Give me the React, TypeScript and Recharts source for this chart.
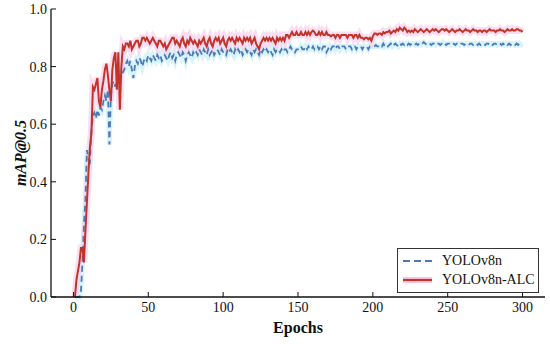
import React from "react";
import { LineChart, Line, XAxis, YAxis, Label } from "recharts";

const yoloV8n: number[] = [
  0, 0, 0, 0, 0.02, 0.12, 0.25, 0.34, 0.51, 0.48,
  0.47, 0.58, 0.63, 0.64, 0.62, 0.65, 0.63, 0.66, 0.65, 0.68,
  0.7, 0.68, 0.72, 0.53, 0.7, 0.74, 0.75, 0.73, 0.76, 0.74,
  0.77, 0.78, 0.78, 0.79, 0.81, 0.82, 0.8, 0.82, 0.79, 0.76,
  0.8, 0.82, 0.81, 0.83, 0.82, 0.8, 0.82, 0.83, 0.82, 0.84,
  0.83, 0.82, 0.84, 0.83, 0.82, 0.84, 0.83, 0.84, 0.82, 0.83,
  0.84, 0.83, 0.82, 0.84, 0.85, 0.83, 0.84, 0.82, 0.84, 0.85,
  0.84, 0.83, 0.85, 0.84, 0.82, 0.84, 0.85, 0.84, 0.83, 0.85,
  0.84, 0.85, 0.84, 0.86, 0.85, 0.84, 0.86, 0.85, 0.84, 0.86,
  0.84, 0.85, 0.86, 0.84, 0.85, 0.86, 0.85, 0.84, 0.86, 0.85,
  0.85, 0.84, 0.86, 0.85, 0.86, 0.85, 0.84, 0.86, 0.85, 0.86,
  0.85, 0.86, 0.84, 0.85, 0.86, 0.85, 0.86, 0.85, 0.84, 0.86,
  0.85, 0.86, 0.85, 0.84, 0.86, 0.85, 0.86, 0.85, 0.86, 0.85,
  0.86, 0.85, 0.84, 0.86, 0.85, 0.86, 0.86, 0.85, 0.86, 0.85,
  0.86, 0.86, 0.85, 0.86, 0.87, 0.86, 0.86, 0.85, 0.86, 0.86,
  0.86, 0.87, 0.86, 0.86, 0.87, 0.86, 0.87, 0.86, 0.86, 0.87,
  0.86, 0.87, 0.87, 0.86, 0.87, 0.86, 0.87, 0.87, 0.85, 0.86,
  0.87, 0.86, 0.87, 0.87, 0.86, 0.87, 0.87, 0.86, 0.87, 0.87,
  0.87, 0.86, 0.87, 0.87, 0.87, 0.86, 0.87, 0.87, 0.86, 0.87,
  0.87, 0.87, 0.86, 0.87, 0.87, 0.87, 0.86, 0.87, 0.87, 0.87,
  0.87, 0.875, 0.87, 0.87, 0.875, 0.87, 0.88, 0.87, 0.875, 0.87,
  0.875, 0.88, 0.87, 0.875, 0.88, 0.875, 0.87, 0.88, 0.875, 0.88,
  0.875, 0.88, 0.875, 0.88, 0.875, 0.88, 0.88, 0.875, 0.88, 0.875,
  0.88, 0.875, 0.88, 0.885, 0.88, 0.875, 0.88, 0.88, 0.875, 0.88,
  0.88, 0.875, 0.88, 0.88, 0.875, 0.88, 0.885, 0.88, 0.875, 0.88,
  0.88, 0.875, 0.88, 0.88, 0.875, 0.88, 0.88, 0.875, 0.88, 0.88,
  0.875, 0.88, 0.88, 0.875, 0.88, 0.88, 0.875, 0.88, 0.88, 0.875,
  0.88, 0.875, 0.88, 0.88, 0.875, 0.88, 0.88, 0.875, 0.88, 0.875,
  0.88, 0.88, 0.875, 0.88, 0.88, 0.875, 0.88, 0.875, 0.88, 0.875,
  0.88, 0.875, 0.88, 0.88, 0.875, 0.88, 0.875, 0.88, 0.875, 0.875,
];

const yoloV8nALC: number[] = [
  0, 0.06, 0.09, 0.12, 0.17, 0.17, 0.12, 0.23, 0.33, 0.43,
  0.52, 0.57, 0.73, 0.72, 0.74, 0.76, 0.68, 0.66, 0.72, 0.75,
  0.79, 0.81, 0.77, 0.72, 0.68, 0.79, 0.83, 0.85, 0.72, 0.85,
  0.65, 0.8, 0.87, 0.86, 0.88, 0.88, 0.87, 0.89, 0.86, 0.87,
  0.88, 0.89, 0.89, 0.87, 0.88, 0.9, 0.9, 0.89, 0.9, 0.89,
  0.88, 0.89, 0.9, 0.89, 0.88, 0.87, 0.89, 0.89, 0.88, 0.87,
  0.88, 0.86, 0.87, 0.88, 0.89, 0.9, 0.9, 0.88, 0.89, 0.88,
  0.87, 0.89, 0.9, 0.88, 0.87, 0.89, 0.88, 0.9, 0.89, 0.88,
  0.89, 0.88, 0.87, 0.89, 0.88, 0.89, 0.9, 0.88, 0.87, 0.89,
  0.9, 0.88, 0.87, 0.89, 0.9, 0.89, 0.9, 0.88, 0.89, 0.9,
  0.88, 0.87, 0.89, 0.9, 0.89, 0.9, 0.89, 0.88, 0.9, 0.89,
  0.9, 0.89, 0.88, 0.9, 0.89, 0.9, 0.89, 0.9, 0.88, 0.89,
  0.9, 0.88, 0.87, 0.86, 0.88, 0.89, 0.9, 0.89, 0.9, 0.89,
  0.9, 0.89, 0.9, 0.89, 0.88, 0.9, 0.89, 0.9, 0.89, 0.9,
  0.89, 0.91, 0.91, 0.9, 0.91, 0.92, 0.91, 0.91, 0.92, 0.91,
  0.91, 0.92, 0.91, 0.91, 0.92, 0.91, 0.92, 0.91, 0.92, 0.925,
  0.92, 0.91, 0.91, 0.92, 0.91, 0.92, 0.91, 0.91, 0.92, 0.91,
  0.91, 0.905, 0.91, 0.91, 0.9, 0.91, 0.91, 0.9, 0.91, 0.91,
  0.91, 0.91, 0.9, 0.91, 0.91, 0.91, 0.9, 0.91, 0.91, 0.9,
  0.91, 0.9, 0.9, 0.895, 0.9, 0.9, 0.895, 0.9, 0.89, 0.905,
  0.915, 0.915, 0.91, 0.915, 0.915, 0.91, 0.92, 0.915, 0.92, 0.92,
  0.925, 0.915, 0.92, 0.925, 0.92, 0.93, 0.925, 0.935, 0.93, 0.925,
  0.935, 0.93, 0.92, 0.925, 0.92, 0.925, 0.92, 0.93, 0.925, 0.92,
  0.925, 0.93, 0.925, 0.92, 0.925, 0.93, 0.925, 0.92, 0.925, 0.93,
  0.925, 0.93, 0.925, 0.92, 0.925, 0.93, 0.93, 0.925, 0.93, 0.925,
  0.92, 0.925, 0.93, 0.925, 0.92, 0.925, 0.925, 0.93, 0.925, 0.92,
  0.925, 0.93, 0.925, 0.925, 0.92, 0.925, 0.93, 0.925, 0.925, 0.92,
  0.925, 0.925, 0.92, 0.925, 0.925, 0.92, 0.925, 0.93, 0.925, 0.925,
  0.925, 0.92, 0.925, 0.925, 0.93, 0.925, 0.925, 0.92, 0.925, 0.93,
  0.925, 0.925, 0.93, 0.925, 0.925, 0.93, 0.93, 0.925, 0.925, 0.92,
];

const epochs: number[] = yoloV8n.map((_, i) => i + 1);
const xTicks: number[] = [0, 50, 100, 150, 200, 250, 300];
const yTicks: number[] = [0, 0.2, 0.4, 0.6, 0.8, 1.0];
const seriesNames = ["YOLOv8n", "YOLOv8n-ALC"];

const data = epochs.map((e, i) => ({ epoch: e, base: yoloV8n[i], alc: yoloV8nALC[i] }));

const BLUE = "#4e79b7";
const RED = "#c2332a";
const FONT = "Liberation Serif";

const LegendBox = () => (
  <div
    style={{
      position: "absolute",
      left: 397,
      top: 248,
      border: "1px solid #333",
      background: "#fff",
      width: 140,
      height: 43,
      fontFamily: FONT,
      fontSize: 14,
      color: "#111",
      whiteSpace: "nowrap",
    }}
  >
    <div style={{ display: "flex", alignItems: "center", height: 19, marginTop: 2 }}>
      <svg width={40} height={10} style={{ marginLeft: 4 }}>
        <line x1={1} y1={5} x2={30} y2={5} stroke={BLUE} strokeWidth={2} strokeDasharray="7 4" />
      </svg>
      <span>{seriesNames[0]}</span>
    </div>
    <div style={{ display: "flex", alignItems: "center", height: 19 }}>
      <svg width={40} height={10} style={{ marginLeft: 4 }}>
        <line x1={1} y1={5} x2={30} y2={5} stroke="#f9c8ea" strokeWidth={6} />
        <line x1={1} y1={5} x2={30} y2={5} stroke={RED} strokeWidth={2.2} />
      </svg>
      <span>{seriesNames[1]}</span>
    </div>
  </div>
);

export default function App() {
  return (
    <div style={{ position: "absolute", left: 0, top: 0, width: 550, height: 344, background: "#fff", fontFamily: FONT }}>
      <style>{`svg text, .recharts-text { font-family: "Liberation Serif", serif !important; }`}</style>
      <LineChart width={550} height={344} data={data} margin={{ top: 9, right: 5, left: 0, bottom: 0 }}>
        <XAxis
          dataKey="epoch"
          type="number"
          domain={[-15, 315]}
          ticks={xTicks}
          height={47}
          axisLine={{ stroke: "#111", strokeWidth: 1.3 }}
          tickLine={{ stroke: "#111" }}
          tickSize={-5}
          tickMargin={10}
          tick={{ fill: "#111", fontSize: 14, fontFamily: FONT }}
        >
          <Label
            content={({ viewBox }: any) => (
              <text
                x={viewBox.x + viewBox.width / 2}
                y={viewBox.y + 36}
                textAnchor="middle"
                fontFamily={FONT}
                fontWeight="bold"
                fontSize={16}
                fill="#111"
              >
                Epochs
              </text>
            )}
          />
        </XAxis>
        <YAxis
          type="number"
          domain={[0, 1]}
          ticks={yTicks}
          width={51}
          axisLine={{ stroke: "#111", strokeWidth: 1.3 }}
          tickLine={{ stroke: "#111" }}
          tickSize={-5}
          tickMargin={9}
          tickFormatter={(v: number) => v.toFixed(1)}
          tick={{ fill: "#111", fontSize: 14, fontFamily: FONT }}
        >
          <Label
            content={({ viewBox }: any) => {
              const cx = viewBox.x + 20;
              const cy = viewBox.y + viewBox.height / 2;
              return (
                <text
                  x={cx}
                  y={cy}
                  transform={`rotate(-90 ${cx} ${cy})`}
                  textAnchor="middle"
                  dominantBaseline="central"
                  fontFamily={FONT}
                  fontWeight="bold"
                  fontStyle="italic"
                  fontSize={16}
                  fill="#111"
                >
                  mAP@0.5
                </text>
              );
            }}
          />
        </YAxis>
        <Line
          dataKey="base"
          stroke="#d8f4fb"
          strokeWidth={5}
          dot={false}
          isAnimationActive={false}
          legendType="none"
        />
        <Line
          dataKey="alc"
          stroke="#f9c8ea"
          strokeWidth={7}
          strokeOpacity={0.6}
          dot={false}
          isAnimationActive={false}
          legendType="none"
        />
        <Line
          dataKey="base"
          name={seriesNames[0]}
          stroke={BLUE}
          strokeWidth={1.8}
          strokeDasharray="6 4"
          dot={false}
          isAnimationActive={false}
        />
        <Line
          dataKey="alc"
          name={seriesNames[1]}
          stroke={RED}
          strokeWidth={2}
          dot={false}
          isAnimationActive={false}
        />
      </LineChart>
      <LegendBox />
    </div>
  );
}
